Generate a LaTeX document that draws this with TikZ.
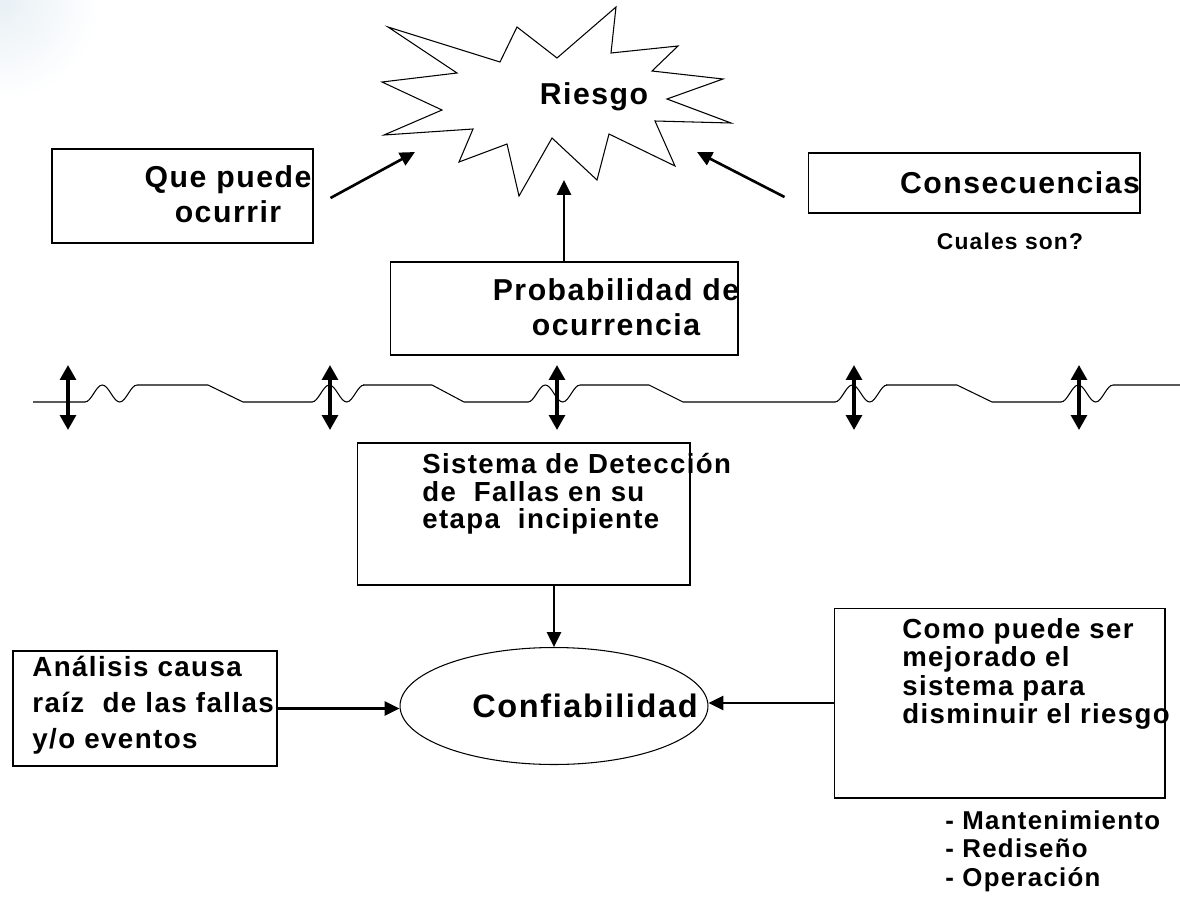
\documentclass[tikz,border=0pt]{standalone}
\usepackage{fontspec}
\setmainfont{Liberation Sans}[LetterSpace=5]
\usetikzlibrary{arrows.meta,shapes.geometric}
\begin{document}
\begin{tikzpicture}[x=0.02cm,y=-0.02cm,
		caja/.style={draw,line width=0.6pt,inner sep=0pt},
		texto/.style={font=\fontsize{15.7}{16.2}\selectfont\bfseries,inner sep=0pt},
		grande/.style={font=\fontsize{17.2}{17}\selectfont\bfseries,inner sep=0pt},
		flecha/.style={line width=1.5pt,-{Triangle[length=8.5pt,width=8pt]}},
		doble/.style={line width=1.9pt,{Triangle[length=8.5pt,width=9pt]}-{Triangle[length=8.5pt,width=9pt]}},
		linea/.style={line width=0.6pt}]
	\useasboundingbox (0,0) rectangle (1180,896);
	\shade[inner color={rgb,255:red,232;green,240;blue,245},outer color=white] (0,0) circle (100);
	\draw[linea,line join=miter] (388,27) -- (500,62) -- (517,27) -- (557,58) -- (616,7) -- (611,53) -- (678,46) -- (652,71) -- (723,79) -- (667,99) -- (731,123) -- (655,121) -- (675,166) -- (609,134) -- (597,180) -- (552,138) -- (519,196) -- (507,144) -- (459,162) -- (473,129) -- (384,135) -- (442,110) -- (382,82) -- (457,73) -- cycle;
	\node[grande] (riesgo) at (594,97) {Riesgo};
	\node[caja,minimum width=5.22cm,minimum height=1.88cm] (que) at (182.5,196) {};
	\node[grande,align=center,font=\fontsize{17.2}{20}\selectfont\bfseries] (que-t) at (228,194) {Que puede\\ocurrir};
	\node[caja,minimum width=6.64cm,minimum height=1.2cm] (cons) at (974,183) {};
	\node[grande] (cons-t) at (1020,183) {Consecuencias};
	\node[texto,font=\fontsize{13}{14}\selectfont\bfseries] (cual) at (1010,241) {Cuales son?};
	\node[caja,minimum width=6.96cm,minimum height=1.86cm] (prob) at (564,308.5) {};
	\node[grande,align=center,font=\fontsize{17.2}{20}\selectfont\bfseries] (prob-t) at (616,307) {Probabilidad de\\ocurrencia};
	\coordinate (rq) at (415,152);
	\coordinate (rc) at (697,152);
	\coordinate (rp) at (564,180);
	\draw[flecha] ([shift={(17,2)}]que.east) -- (rq);
	\draw[flecha] ([shift={(-23,14)}]cons.west) -- (rc);
	\draw[flecha] (prob.north) -- (rp);
	\draw[linea] (33,402) -- (85,402) (137,385) -- (208,385) -- (243,402) -- (312,402) (363,385) -- (432,385) -- (464,402) -- (528,402) (580,385) -- (649,385) -- (683,402) -- (835,402) (886,385) -- (957,385) -- (992,402) -- (1061,402) (1113,385) -- (1180,385);
	\foreach \x in {85,312,528,835,1061}
		\draw[linea] (\x,402) cos ++(8.7,-8.5) sin ++(8.6,-8.5) cos ++(8.7,8.5) sin ++(8.7,8.5) cos ++(8.6,-8.5) sin ++(8.7,-8.5);
	\foreach \x in {68,330,557,854,1079}
		\draw[doble] (\x,365) -- (\x,430);
	\node[caja,minimum width=6.66cm,minimum height=2.84cm] (sist) at (523.5,514) {};
	\node[texto,align=left,anchor=west,font=\fontsize{15.7}{15.6}\selectfont\bfseries] (sist-t) at (422,494) {Sistema de Detección\\de\ \ Fallas en su\\etapa\ \ incipiente};
	\node[draw,ellipse,line width=0.6pt,minimum width=6.16cm,minimum height=2.34cm,inner sep=0pt] (conf) at (554,706) {};
	\node[grande,font=\fontsize{18.5}{19}\selectfont\bfseries] (conf-t) at (585,706) {Confiabilidad};
	\node[caja,minimum width=5.28cm,minimum height=2.3cm] (ana) at (145,708.5) {};
	\node[texto,align=left,anchor=west,font=\fontsize{15.8}{20.6}\selectfont\bfseries] (ana-t) at (32,705) {Análisis causa\\raíz\ \ de las fallas\\y/o eventos};
	\node[caja,minimum width=6.62cm,minimum height=3.8cm] (como) at (999.5,703) {};
	\node[texto,align=left,anchor=west] (como-t) at (902,674) {Como puede ser\\mejorado el\\sistema para\\disminuir el riesgo};
	\node[texto,align=left,anchor=west,font=\fontsize{14.7}{16.2}\selectfont\bfseries] (lista) at (945,851) {- Mantenimiento\\- Rediseño\\- Operación};
	\draw[flecha] (sist.south -| conf.north) -- (conf.north);
	\draw[flecha] (ana.east) -- (ana.east -| conf.west);
	\draw[flecha] (como.west) -- (como.west -| conf.east);
\end{tikzpicture}
\end{document}
